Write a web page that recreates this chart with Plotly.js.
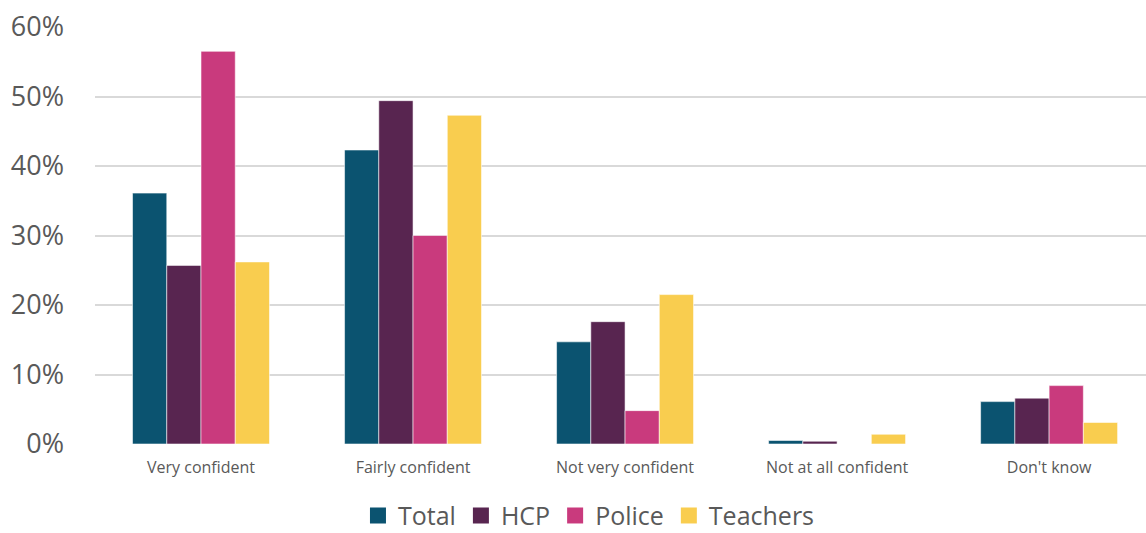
<!DOCTYPE html>
<html>
<head>
<meta charset="utf-8">
<script src="https://cdn.plot.ly/plotly-3.0.1.min.js"></script>
<style>
  html, body { margin: 0; padding: 0; background: #ffffff; }
  #chart { width: 1146px; height: 533px; }
</style>
</head>
<body>
<div id="chart"></div>
<script>
// Confidence levels (share of respondents)
const categories = ["Very confident", "Fairly confident", "Not very confident", "Not at all confident", "Don't know"];
const totalValues    = [0.361, 0.423, 0.147, 0.005, 0.061];
const hcpValues      = [0.257, 0.494, 0.176, 0.004, 0.066];
const policeValues   = [0.565, 0.300, 0.048, 0.000, 0.084];
const teachersValues = [0.262, 0.473, 0.215, 0.014, 0.031];
const seriesNames  = ["Total", "HCP", "Police", "Teachers"];
const seriesColors = ["#0b5370", "#582550", "#c93a7d", "#f9cd4f"];
const yTickValues = [0, 0.1, 0.2, 0.3, 0.4, 0.5, 0.6];

const seriesValues = [totalValues, hcpValues, policeValues, teachersValues];
const textColor = "#595959";

// Bars (legend entries come from the square-marker traces below)
const barTraces = seriesNames.map((name, i) => ({
  type: "bar",
  name: name,
  legendgroup: name,
  showlegend: false,
  x: categories,
  y: seriesValues[i],
  marker: {
    color: seriesColors[i],
    line: { color: "rgba(255,255,255,0.55)", width: 1 }
  }
}));

// Marker-only traces with no plotted value, used for larger square legend swatches
const legendTraces = seriesNames.map((name, i) => ({
  type: "scatter",
  mode: "markers",
  name: name,
  legendgroup: name,
  showlegend: true,
  x: [categories[0]],
  y: [null],
  marker: { symbol: "square", size: 17, color: seriesColors[i] }
}));

const layout = {
  width: 1146,
  height: 533,
  margin: { l: 95, r: 0, t: 27, b: 89, autoexpand: false },
  paper_bgcolor: "#ffffff",
  plot_bgcolor: "#ffffff",
  barmode: "group",
  bargap: 0.354,
  bargroupgap: 0,
  font: { family: "Open Sans, Noto Sans, sans-serif", color: textColor },
  xaxis: {
    type: "category",
    categoryarray: categories,
    range: [-0.5, 4.457],
    showgrid: false,
    showline: false,
    zeroline: false,
    ticks: "",
    tickfont: { size: 16, color: textColor },
    ticklabelstandoff: 12
  },
  yaxis: {
    range: [0, 0.6],
    tickvals: yTickValues,
    tickformat: ".0%",
    showgrid: true,
    gridcolor: "#d9d9d9",
    gridwidth: 2,
    zeroline: false,
    showline: false,
    ticks: "",
    tickfont: { size: 27, color: textColor },
    ticklabelstandoff: 30
  },
  legend: {
    orientation: "h",
    x: 0.47,
    xanchor: "center",
    y: -0.172,
    yanchor: "middle",
    font: { size: 25, color: textColor },
    itemwidth: 30,
    tracegroupgap: 0,
    bgcolor: "rgba(0,0,0,0)"
  },
  showlegend: true
};

Plotly.newPlot("chart", barTraces.concat(legendTraces), layout, { displayModeBar: false, staticPlot: true });
</script>
</body>
</html>
